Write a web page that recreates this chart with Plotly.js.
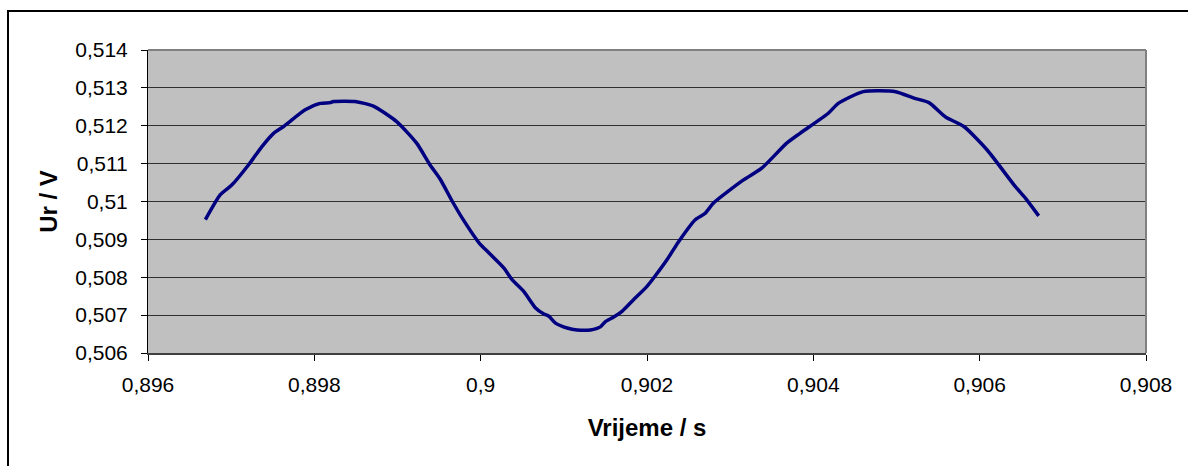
<!DOCTYPE html>
<html>
<head>
<meta charset="utf-8">
<script src="https://cdn.plot.ly/plotly-3.0.1.min.js"></script>
<style>
  html, body { margin: 0; padding: 0; background: #ffffff; }
  #chart { width: 1188px; height: 466px; }
  #frame { position: absolute; left: 7px; top: 10px; width: 1200px; height: 470px;
           border-left: 2px solid #000; border-top: 2px solid #000; pointer-events: none; box-sizing: border-box; }
</style>
</head>
<body>
<div id="chart"></div>
<div id="frame"></div>
<script>
// Time (s)
const timeS = [
  0.89669, 0.89687, 0.89701, 0.89721, 0.89737, 0.89751, 0.89763, 0.89789, 0.89807, 0.89819,
  0.89823, 0.89849, 0.89871, 0.89899, 0.89923, 0.89939, 0.89951, 0.89966, 0.89979, 0.89998,
  0.90010, 0.90028, 0.90038, 0.90052, 0.90066, 0.90076, 0.90082, 0.90090, 0.90104, 0.90116,
  0.90132, 0.90144, 0.90150, 0.90160, 0.90170, 0.90184, 0.90200, 0.90208, 0.90224, 0.90238,
  0.90258, 0.90270, 0.90280, 0.90316, 0.90338, 0.90368, 0.90384, 0.90418, 0.90430, 0.90460,
  0.90499, 0.90521, 0.90539, 0.90559, 0.90581, 0.90609, 0.90643, 0.90655, 0.90671
];
// Voltage Ur (V)
const urV = [
  0.50952, 0.51018, 0.51044, 0.51097, 0.51145, 0.51180, 0.51198, 0.51242, 0.51259, 0.51261,
  0.51264, 0.51264, 0.51252, 0.51211, 0.51154, 0.51097, 0.51060, 0.51000, 0.50952, 0.50891,
  0.50864, 0.50824, 0.50793, 0.50762, 0.50719, 0.50703, 0.50697, 0.50679, 0.50666, 0.50661,
  0.50661, 0.50669, 0.50683, 0.50695, 0.50710, 0.50741, 0.50776, 0.50798, 0.50846, 0.50894,
  0.50952, 0.50969, 0.50996, 0.51057, 0.51088, 0.51154, 0.51180, 0.51233, 0.51259, 0.51290,
  0.51290, 0.51273, 0.51261, 0.51223, 0.51198, 0.51136, 0.51039, 0.51009, 0.50962
];
const xTickVals = [0.896, 0.898, 0.900, 0.902, 0.904, 0.906, 0.908];
const xTickText = ["0,896", "0,898", "0,9", "0,902", "0,904", "0,906", "0,908"];
const yTickVals = [0.506, 0.507, 0.508, 0.509, 0.510, 0.511, 0.512, 0.513, 0.514];
const yTickText = ["0,506", "0,507", "0,508", "0,509", "0,51", "0,511", "0,512", "0,513", "0,514"];

const font = "Liberation Sans, Arial, sans-serif";

Plotly.newPlot('chart', [{
  x: timeS, y: urV, type: 'scatter', mode: 'lines',
  line: { color: '#000080', width: 3.5, shape: 'spline', smoothing: 0.6 },
  hoverinfo: 'skip'
}], {
  width: 1188, height: 466,
  margin: { l: 148, r: 42, t: 50, b: 113, pad: 0 },
  paper_bgcolor: '#ffffff',
  plot_bgcolor: '#c0c0c0',
  showlegend: false,
  font: { family: font, size: 21, color: '#000' },
  xaxis: {
    range: [0.896, 0.908], tickmode: 'array', tickvals: xTickVals, ticktext: xTickText,
    showgrid: false, zeroline: false,
    showline: true, linecolor: '#404040', linewidth: 2,
    ticks: 'outside', ticklen: 6, tickcolor: '#000', tickwidth: 1,
    ticklabelstandoff: 6,
    tickfont: { family: font, size: 21, color: '#000' },
    title: { text: '<b>Vrijeme / s</b>', font: { family: font, size: 24, color: '#000' }, standoff: 24 }
  },
  yaxis: {
    range: [0.506, 0.514], tickmode: 'array', tickvals: yTickVals, ticktext: yTickText,
    showgrid: true, gridcolor: '#303030', gridwidth: 1, zeroline: false,
    showline: true, linecolor: '#000', linewidth: 1,
    ticks: 'outside', ticklen: 6, tickcolor: '#000', tickwidth: 1,
    ticklabelstandoff: 9,
    tickfont: { family: font, size: 21, color: '#000' },
    title: { text: '<b>Ur / V</b>', font: { family: font, size: 24, color: '#000' }, standoff: 10 }
  },
  shapes: [
    { type: 'line', xref: 'paper', yref: 'paper', x0: 0, x1: 1, y0: 1, y1: 1, line: { color: '#808080', width: 2 } },
    { type: 'line', xref: 'paper', yref: 'paper', x0: 1, x1: 1, y0: 0, y1: 1, line: { color: '#808080', width: 2 } }
  ]
}, { displayModeBar: false, staticPlot: true });
</script>
</body>
</html>
